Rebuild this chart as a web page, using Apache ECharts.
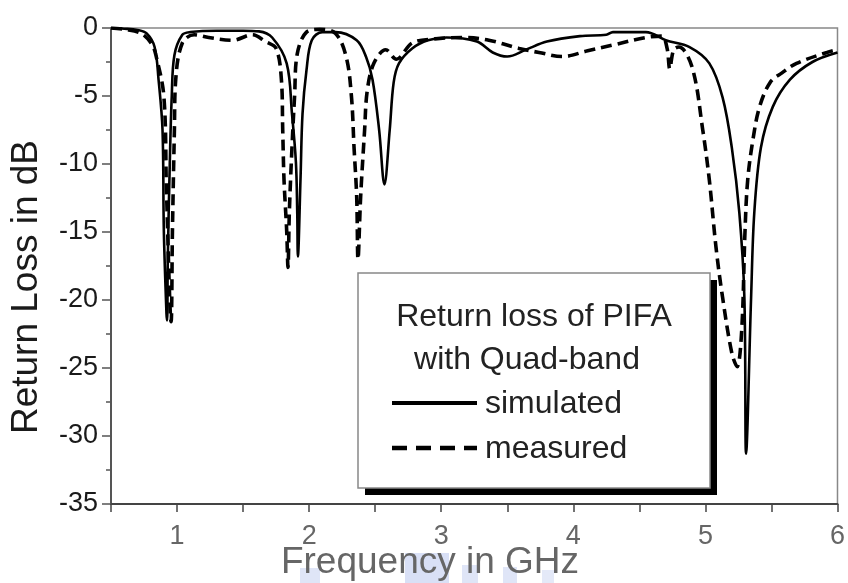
<!DOCTYPE html>
<html>
<head>
<meta charset="utf-8">
<script src="https://cdn.jsdelivr.net/npm/echarts@6/dist/echarts.min.js"></script>
<style>html,body{margin:0;padding:0;background:#fff;}#c{width:848px;height:583px;}</style>
</head>
<body>
<div id="c"></div>
<script>
// Simulated return loss (GHz, dB)
var freqSim = [0.5,0.6,0.7,0.77,0.83,0.86,0.89,0.9,0.92,0.925,0.93,0.945,0.96,0.98,1.04,1.1,1.3,1.5,1.62,1.72,1.83,1.87,1.9,1.91,1.915,1.935,1.95,1.98,2.02,2.1,2.2,2.36,2.43,2.48,2.53,2.57,2.61,2.64,2.68,2.78,2.9,3.04,3.27,3.39,3.5,3.64,3.8,4.05,4.25,4.3,4.55,4.7,4.88,5.03,5.13,5.2,5.257,5.295,5.308,5.346,5.37,5.42,5.51,5.64,5.81,6.0];
var lossSim = [0,-0.05,-0.15,-0.4,-1.4,-3.8,-7.5,-14.9,-21,-21.5,-17,-10,-5,-2,-0.5,-0.3,-0.2,-0.2,-0.25,-0.7,-2.6,-6.3,-9.9,-13.6,-16.8,-11,-6.3,-3.1,-0.9,-0.3,-0.3,-0.9,-2.1,-3.8,-7.5,-11.5,-7.5,-4,-2.6,-1.5,-0.9,-0.7,-1.0,-1.8,-2.1,-1.6,-1.0,-0.6,-0.5,-0.3,-0.3,-0.9,-1.4,-2.6,-5.1,-8.8,-13.6,-19.8,-31.3,-19.8,-13.6,-8.8,-5.8,-3.8,-2.5,-1.8];
// Measured return loss (GHz, dB)
var freqMeas = [0.5,0.6,0.73,0.81,0.84,0.9,0.92,0.955,0.965,0.98,0.99,1.04,1.13,1.24,1.42,1.57,1.67,1.75,1.79,1.8,1.81,1.83,1.84,1.85,1.87,1.89,1.91,1.98,2.08,2.2,2.28,2.32,2.34,2.36,2.37,2.39,2.42,2.44,2.49,2.58,2.66,2.78,2.95,3.16,3.36,3.59,3.74,3.92,4.1,4.3,4.55,4.67,4.71,4.73,4.76,4.8,4.9,4.98,5.03,5.08,5.13,5.2,5.24,5.275,5.3,5.32,5.36,5.41,5.49,5.58,5.69,5.92,6.0];
var lossMeas = [0,-0.1,-0.4,-1.2,-2,-5,-12,-21.6,-15,-7.5,-3.8,-1.1,-0.5,-0.7,-0.9,-0.5,-1.0,-1.5,-3.8,-7.5,-11.2,-14.9,-17.6,-13.6,-8.8,-5,-1.9,-0.3,-0.1,-0.4,-2.1,-5,-8.8,-12.4,-17,-12.4,-7.5,-4.6,-2.6,-1.6,-2.3,-1.1,-0.8,-0.7,-0.9,-1.5,-1.8,-2.1,-1.7,-1.25,-0.7,-0.6,-1.5,-3.0,-1.6,-1.4,-2.9,-7.5,-11.2,-16.1,-19.8,-23.9,-24.9,-22.2,-14.9,-11.2,-8.2,-5.8,-4.0,-3.3,-2.6,-1.8,-1.6];
var xTicks = [1,2,3,4,5,6];
var legendTitle = ['Return loss of PIFA','with Quad-band'];
var seriesNames = ['simulated','measured'];
var xTitle = 'Frequency in GHz';
var yTitle = 'Return Loss in dB';

function pairs(xs, ys){ return xs.map(function(x,i){ return [x, ys[i]]; }); }

var chart = echarts.init(document.getElementById('c'), null, {renderer:'canvas'});
var font = 'Liberation Sans, Arial, Helvetica, sans-serif';
chart.setOption({
  animation:false,
  backgroundColor:'#fff',
  grid:{left:111, top:28, right:10, bottom:79, show:true, borderColor:'#888', borderWidth:1.5},
  xAxis:{
    type:'value', min:0.5, max:6, interval:0.5,
    axisLine:{show:true, onZero:false, lineStyle:{color:'#444', width:2}},
    axisTick:{show:true, inside:false, length:8, lineStyle:{color:'#444', width:1.5}},
    splitLine:{show:false},
    axisLabel:{margin:19, fontSize:27, color:'#666', fontFamily:font,
      formatter:function(v){ return xTicks.indexOf(v) >= 0 ? String(v) : ''; }}
  },
  yAxis:{
    type:'value', min:-35, max:0, interval:5,
    axisLine:{show:true, onZero:false, lineStyle:{color:'#555', width:2}},
    axisTick:{show:true, inside:false, length:9, lineStyle:{color:'#555', width:1.5}},
    minorTick:{show:true, splitNumber:2, length:5, lineStyle:{color:'#555', width:1.5}},
    splitLine:{show:false},
    axisLabel:{margin:13, fontSize:27, color:'#1a1a1a', fontFamily:font}
  },
  series:[
    {name:seriesNames[0], type:'line', data:pairs(freqSim, lossSim), symbol:'none', smooth:0.35,
     lineStyle:{color:'#000', width:2.6, type:'solid'}, z:3},
    {name:seriesNames[1], type:'line', data:pairs(freqMeas, lossMeas), symbol:'none', smooth:0.35,
     lineStyle:{color:'#000', width:3.6, type:[11,6]}, z:3}
  ],
  graphic:[
    {type:'rect', z:1, shape:{x:300, y:568, width:20, height:15}, style:{fill:'#dfe5f7'}},
    {type:'rect', z:1, shape:{x:405, y:553, width:44, height:30}, style:{fill:'#d9e0f6'}},
    {type:'rect', z:1, shape:{x:462, y:565, width:16, height:18}, style:{fill:'#dfe5f7'}},
    {type:'rect', z:1, shape:{x:503, y:567, width:14, height:16}, style:{fill:'#dfe5f7'}},
    {type:'rect', z:1, shape:{x:542, y:570, width:12, height:13}, style:{fill:'#e4e9f8'}},
    {type:'text', z:2, x:430, y:563, style:{text:xTitle, font:'37px '+font, fill:'#666', textAlign:'center', textVerticalAlign:'middle'}},
    {type:'text', z:2, x:27, y:287, rotation:Math.PI/2, style:{text:yTitle, font:'37px '+font, fill:'#1a1a1a', textAlign:'center', textVerticalAlign:'middle'}},
    {type:'rect', z:100, shape:{x:365, y:280, width:352, height:215}, style:{fill:'#000'}},
    {type:'rect', z:101, shape:{x:358, y:273, width:352, height:215}, style:{fill:'#fff', stroke:'#888', lineWidth:1.5}},
    {type:'text', z:102, x:534, y:317, style:{text:legendTitle[0], font:'32px '+font, fill:'#222', textAlign:'center', textVerticalAlign:'middle'}},
    {type:'text', z:102, x:527, y:360, style:{text:legendTitle[1], font:'32px '+font, fill:'#222', textAlign:'center', textVerticalAlign:'middle'}},
    {type:'line', z:102, shape:{x1:392, y1:403, x2:477, y2:403}, style:{stroke:'#000', lineWidth:4}},
    {type:'text', z:102, x:485, y:404, style:{text:seriesNames[0], font:'32px '+font, fill:'#222', textAlign:'left', textVerticalAlign:'middle'}},
    {type:'line', z:102, shape:{x1:392, y1:448, x2:477, y2:448}, style:{stroke:'#000', lineWidth:4.5, lineDash:[15,9]}},
    {type:'text', z:102, x:485, y:449, style:{text:seriesNames[1], font:'32px '+font, fill:'#222', textAlign:'left', textVerticalAlign:'middle'}}
  ]
});
</script>
</body>
</html>
